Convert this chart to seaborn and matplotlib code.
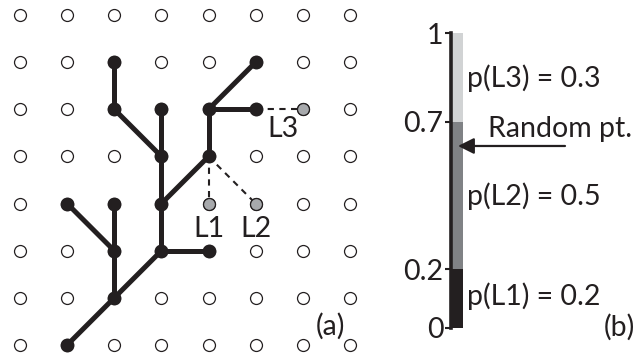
import numpy as np
import pandas as pd
import matplotlib
matplotlib.use("Agg")
import matplotlib.pyplot as plt
import seaborn as sns

sns.set_theme(style="white")
plt.rcParams['font.family'] = ['Lato', 'DejaVu Sans']

INK = "#231f20"
FS = 20.5

# Lattice size
n_cols, n_rows = 8, 8

# Aggregate (tree) nodes: column, row (row 0 = bottom)
node_col = [1, 2, 3, 4, 2, 1, 2, 3, 3, 4, 4, 5, 5, 3, 2, 2]
node_row = [0, 1, 2, 2, 2, 3, 3, 3, 4, 4, 5, 5, 6, 5, 5, 6]

# Tree bonds: start and end lattice sites
edge_c0 = [1, 2, 3, 2, 2, 2, 3, 3, 3, 3, 3, 2, 4, 4, 4]
edge_r0 = [0, 1, 2, 1, 2, 2, 2, 3, 3, 4, 4, 5, 4, 5, 5]
edge_c1 = [2, 3, 4, 2, 1, 2, 3, 3, 4, 3, 2, 2, 4, 5, 5]
edge_r1 = [1, 2, 2, 2, 3, 3, 3, 4, 4, 5, 5, 6, 5, 5, 6]

# Growth candidates and the tree node each would attach to
cand_label = ["L1", "L2", "L3"]
cand_col = [4, 5, 6]
cand_row = [3, 3, 5]
par_col = [4, 4, 5]
par_row = [4, 4, 5]

# Selection probabilities of the candidates
probs = [0.2, 0.5, 0.3]
prob_labels = ["p(L1) = 0.2", "p(L2) = 0.5", "p(L3) = 0.3"]
seg_colors = [INK, "#808285", "#d1d3d4"]
tick_vals = [0, 0.2, 0.7, 1]
tick_text = ["0", "0.2", "0.7", "1"]
random_pt = 0.617

W, H = 641, 360
fig = plt.figure(figsize=(W / 100, H / 100), dpi=100)
fig.patch.set_facecolor("white")

# ---- (a) lattice with growing tree ----
sp = 47.14
axa = fig.add_axes([0, 0, 370 / W, 1])
axa.set_xlim((0 - 20) / sp, (370 - 20) / sp)
axa.set_ylim((345 - 360) / sp, (345 - 0) / sp)
axa.set_axis_off()

gc, gr = np.meshgrid(np.arange(n_cols), np.arange(n_rows))
grid = pd.DataFrame({"c": gc.ravel(), "r": gr.ravel()})
sns.scatterplot(data=grid, x="c", y="r", ax=axa, s=74, color="white",
                edgecolor=INK, linewidth=0.9, zorder=1, legend=False)

for c0, r0, c1, r1 in zip(edge_c0, edge_r0, edge_c1, edge_r1):
    axa.plot([c0, c1], [r0, r1], color=INK, lw=3.6,
             solid_capstyle="round", zorder=2)

for c, r, pc, pr in zip(cand_col, cand_row, par_col, par_row):
    axa.plot([pc, c], [pr, r], color=INK, lw=1.5, dashes=(3, 2.6), zorder=2)

nodes = pd.DataFrame({"c": node_col, "r": node_row})
sns.scatterplot(data=nodes, x="c", y="r", ax=axa, s=100, color=INK,
                edgecolor=INK, linewidth=0, zorder=3, legend=False)

cands = pd.DataFrame({"c": cand_col, "r": cand_row})
sns.scatterplot(data=cands, x="c", y="r", ax=axa, s=74, color="#a7a9ac",
                edgecolor=INK, linewidth=0.9, zorder=3, legend=False)

label_pos = {"L1": (4.0, 2.29), "L2": (5.0, 2.29), "L3": (5.58, 4.41)}
for lab in cand_label:
    x, y = label_pos[lab]
    axa.text(x, y, lab, ha="center", va="baseline", fontsize=FS, color=INK)
axa.text(6.58, 0.21, "(a)", ha="center", va="baseline", fontsize=FS, color=INK)
axa.set_xlabel("")
axa.set_ylabel("")

# ---- (b) cumulative probability bar ----
axb = fig.add_axes([451 / W, 32 / H, (W - 451) / W, 295 / H])
axb.set_xlim(0, W - 451)
axb.set_ylim(0, 1)
axb.patch.set_alpha(0)
for s in ["top", "right", "bottom"]:
    axb.spines[s].set_visible(False)
axb.spines["left"].set_color(INK)
axb.spines["left"].set_linewidth(2.6)
axb.spines["left"].set_zorder(5)

bottoms = np.concatenate([[0], np.cumsum(probs)[:-1]])
axb.bar([0] * len(probs), probs, bottom=bottoms, width=12, align="edge",
        color=seg_colors, linewidth=0, zorder=1)

axb.set_xticks([])
axb.set_yticks(tick_vals)
axb.set_yticklabels(tick_text)
axb.tick_params(axis="y", direction="out", length=4.5, width=1.5,
                color=INK, labelsize=FS, labelcolor=INK, pad=1, left=True)
axb.grid(False)

label_y = [0.078, 0.417, 0.818]
for txt, y in zip(prob_labels, label_y):
    axb.text(16, y, txt, ha="left", va="baseline", fontsize=FS, color=INK,
             clip_on=False)

axb.annotate("", xy=(7, random_pt), xytext=(114, random_pt),
             arrowprops=dict(arrowstyle="-|>", lw=1.6, color=INK,
                             mutation_scale=24, shrinkA=0, shrinkB=0),
             zorder=6)
axb.text(37, 0.649, "Random pt.", ha="left", va="baseline", fontsize=FS,
         color=INK, clip_on=False)
axb.text(168, -0.027, "(b)", ha="center", va="baseline", fontsize=FS,
         color=INK, clip_on=False)

fig.savefig("out.png", dpi=100, facecolor="white")
